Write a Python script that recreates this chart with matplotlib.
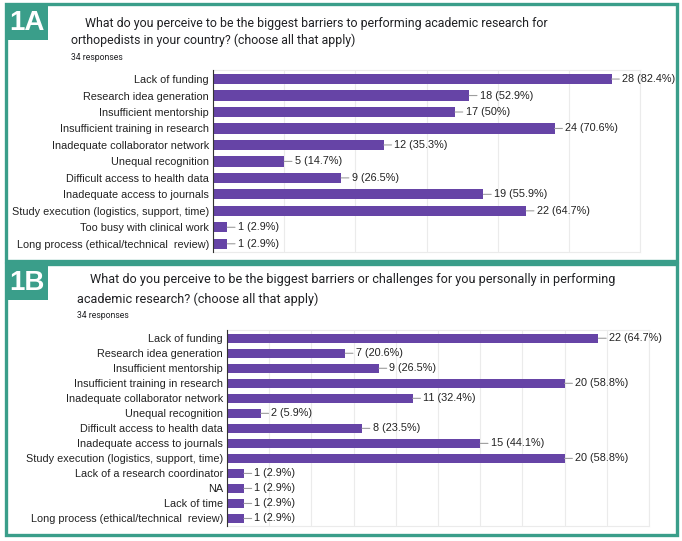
import matplotlib.pyplot as plt
from matplotlib.patches import Rectangle

W, H = 682, 541

# Panel 1A data
labels_a = ["Lack of funding", "Research idea generation", "Insufficient mentorship",
            "Insufficient training in research", "Inadequate collaborator network",
            "Unequal recognition", "Difficult access to health data",
            "Inadequate access to journals", "Study execution (logistics, support, time)",
            "Too busy with clinical work", "Long process (ethical/technical  review)"]
counts_a = [28, 18, 17, 24, 12, 5, 9, 19, 22, 1, 1]
pcts_a = ["82.4%", "52.9%", "50%", "70.6%", "35.3%", "14.7%", "26.5%", "55.9%",
          "64.7%", "2.9%", "2.9%"]

# Panel 1B data
labels_b = ["Lack of funding", "Research idea generation", "Insufficient mentorship",
            "Insufficient training in research", "Inadequate collaborator network",
            "Unequal recognition", "Difficult access to health data",
            "Inadequate access to journals", "Study execution (logistics, support, time)",
            "Lack of a research coordinator", "NA", "Lack of time",
            "Long process (ethical/technical  review)"]
counts_b = [22, 7, 9, 20, 11, 2, 8, 15, 20, 1, 1, 1, 1]
pcts_b = ["64.7%", "20.6%", "26.5%", "58.8%", "32.4%", "5.9%", "23.5%", "44.1%",
          "58.8%", "2.9%", "2.9%", "2.9%", "2.9%"]

teal = "#3a9e8a"
purple = "#6644a6"
grid = "#ebebeb"


def fx(x):
    return x / W


def fy(y):
    return 1 - y / H


def make_panel(fig, left, right, top, bottom, labels, counts, pcts, xmax, step):
    ax = fig.add_axes([fx(left), fy(bottom), (right - left) / W, (bottom - top) / H])
    n = len(labels)
    pos = list(range(n))
    ax.barh(pos, counts, height=0.62, color=purple, zorder=3)
    ax.set_xlim(0, xmax)
    ax.set_ylim(n - 0.5, -0.55)
    ax.set_yticks(pos)
    ax.set_yticklabels(labels, family="Liberation Sans", fontsize=7.8, color="#222222")
    ax.tick_params(axis="y", length=0, pad=3)
    ax.set_xticks([step * k for k in range(int(xmax / step) + 1)])
    ax.tick_params(axis="x", length=0, labelbottom=False)
    ax.grid(axis="x", color=grid, linewidth=0.8, zorder=0)
    for s in ["top", "bottom", "right"]:
        ax.spines[s].set_color(grid)
    ax.spines["left"].set_color("#333333")
    ax.spines["left"].set_zorder(4)
    for i, (c, p) in enumerate(zip(counts, pcts)):
        ax.annotate(f"{c} ({p})", xy=(c, i), xytext=(7.6, 0), textcoords="offset points",
                    ha="left", va="center", family="Liberation Sans", fontsize=7.8,
                    color="#222222", annotation_clip=False,
                    arrowprops=dict(arrowstyle="-", color="#9e9e9e", lw=0.8,
                                    shrinkA=0, shrinkB=0))
    return ax


fig = plt.figure(figsize=(W / 100, H / 100), dpi=100)

# panel frames
fig.patches.append(Rectangle((fx(6), fy(261)), (671 / W), (257 / H), transform=fig.transFigure,
                             fill=False, edgecolor=teal, linewidth=2.4))
fig.patches.append(Rectangle((fx(6), fy(535)), (671 / W), (271 / H), transform=fig.transFigure,
                             fill=False, edgecolor=teal, linewidth=2.4))
# label boxes
fig.patches.append(Rectangle((fx(5), fy(40)), 43 / W, 36 / H, transform=fig.transFigure,
                             facecolor=teal, edgecolor="none"))
fig.patches.append(Rectangle((fx(5), fy(300)), 43 / W, 37 / H, transform=fig.transFigure,
                             facecolor=teal, edgecolor="none"))
fig.text(fx(26.5), fy(23), "1A", color="white", fontsize=20, fontweight="bold",
         family="Liberation Sans", ha="center", va="center")
fig.text(fx(26.5), fy(283), "1B", color="white", fontsize=20, fontweight="bold",
         family="Liberation Sans", ha="center", va="center")

title_kw = dict(family="Roboto", fontsize=8.9, color="#202124", va="center", ha="left")
title_b_kw = dict(title_kw, fontsize=9.1)
resp_kw = dict(family="Roboto", fontsize=6.2, color="#202124", va="center", ha="left")
fig.text(fx(85), fy(23), "What do you perceive to be the biggest barriers to performing academic research for", **title_kw)
fig.text(fx(71), fy(40), "orthopedists in your country? (choose all that apply)", **title_kw)
fig.text(fx(71), fy(57), "34 responses", **resp_kw)

fig.text(fx(90), fy(280), "What do you perceive to be the biggest barriers or challenges for you personally in performing", **title_b_kw)
fig.text(fx(77), fy(299), "academic research? (choose all that apply)", **title_b_kw)
fig.text(fx(77), fy(316), "34 responses", **resp_kw)

make_panel(fig, 213, 640, 70, 252, labels_a, counts_a, pcts_a, 30, 5)
make_panel(fig, 227, 649, 330, 526, labels_b, counts_b, pcts_b, 25, 2.5)

fig.savefig("out.png", dpi=100)
